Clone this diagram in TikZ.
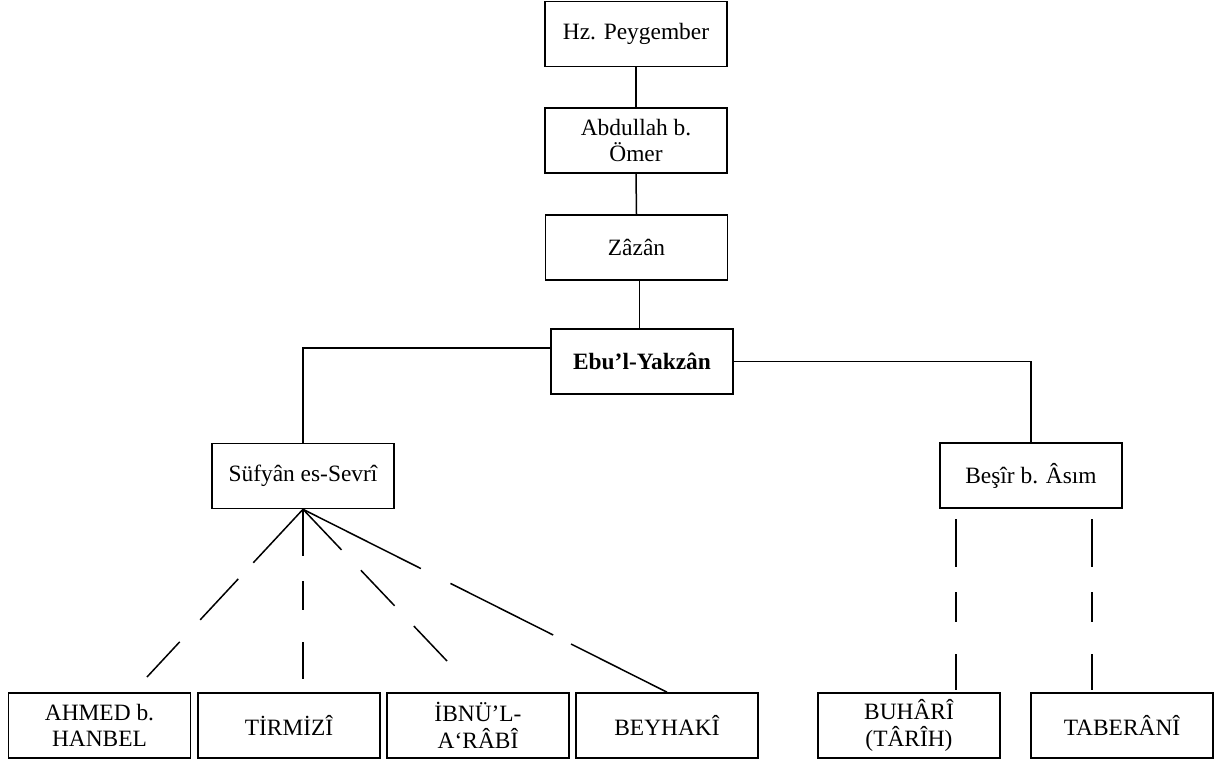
\documentclass[tikz,border=0pt]{standalone}
\usepackage{fontspec}
\setmainfont{Liberation Serif}
\begin{document}
\begin{tikzpicture}[x=0.5pt,y=-0.5pt,
  box/.style={draw,line width=0.8pt,minimum width=91pt,minimum height=32.5pt,inner sep=0pt,align=center,
    font=\fontsize{11.7}{13.4}\selectfont},
  link/.style={line width=0.75pt}]
\useasboundingbox[fill=white] (0,0) rectangle (1227,760);
\node[box] (hz) at (636,34) {Hz. Peygember};
\node[box] (abd) at (636,140.5) {Abdullah b.\\Ömer};
\node[box] (zaz) at (636.5,247.5) {Zâzân};
\node[box,font=\fontsize{11.7}{13.4}\selectfont\bfseries] (ebu) at (642,361.5) {Ebu’l-Yakzân};
\node[box] (suf) at (303,476) {Süfyân es-Sevrî};
\node[box] (bes) at (1031,475.5) {Beşîr b. Âsım};
\node[box] (ahmed) at (99.5,725.5) {AHMED b.\\HANBEL};
\node[box] (tir) at (289,725.5) {TİRMİZÎ};
\node[box] (ibn) at (478,725.5) {İBNÜ’L-\\A‘RÂBÎ};
\node[box] (bey) at (667,725.5) {BEYHAKÎ};
\node[box] (buh) at (909,725.5) {BUHÂRÎ\\(TÂRÎH)};
\node[box] (tab) at (1122,725.5) {TABERÂNÎ};
\coordinate (ahmedEnd) at (147,677);
\coordinate (tirEnd) at (303,679);
\coordinate (ibnEnd) at (447,661);
\coordinate (buhTop) at (956,519);
\coordinate (buhEnd) at (956,690);
\coordinate (tabTop) at (1092,519);
\coordinate (tabEnd) at (1092,690);
\draw[link] (hz.south) -- (abd.north);
\draw[link] (abd.south) -- (zaz.north);
\draw[link] ([xshift=1.5pt]zaz.south) -- ([xshift=1.5pt]zaz.south |- ebu.north);
\draw[link] ([yshift=6.75pt]ebu.west) -| (suf.north);
\draw[link] (ebu.east) -| (bes.north);
\draw[link,dash pattern=on 36.5pt off 11pt on 28pt off 15pt on 24.5pt off 40pt] (suf.south) -- (ahmedEnd);
\draw[link,dash pattern=on 23.5pt off 12.5pt on 14.5pt off 16pt on 18.5pt off 40pt] (suf.south) -- (tirEnd);
\draw[link,dash pattern=on 28pt off 14pt on 24.5pt off 14pt on 24.5pt off 40pt] (suf.south) -- (ibnEnd);
\draw[link,dash pattern=on 66pt off 16.5pt on 57.5pt off 10pt on 60pt off 40pt] (suf.south) -- (bey.north);
\draw[link,dash pattern=on 24pt off 12.5pt on 15pt off 16pt on 18pt off 40pt] (buhTop) -- (buhEnd);
\draw[link,dash pattern=on 24pt off 12.5pt on 15pt off 16pt on 18pt off 40pt] (tabTop) -- (tabEnd);
\end{tikzpicture}
\end{document}
